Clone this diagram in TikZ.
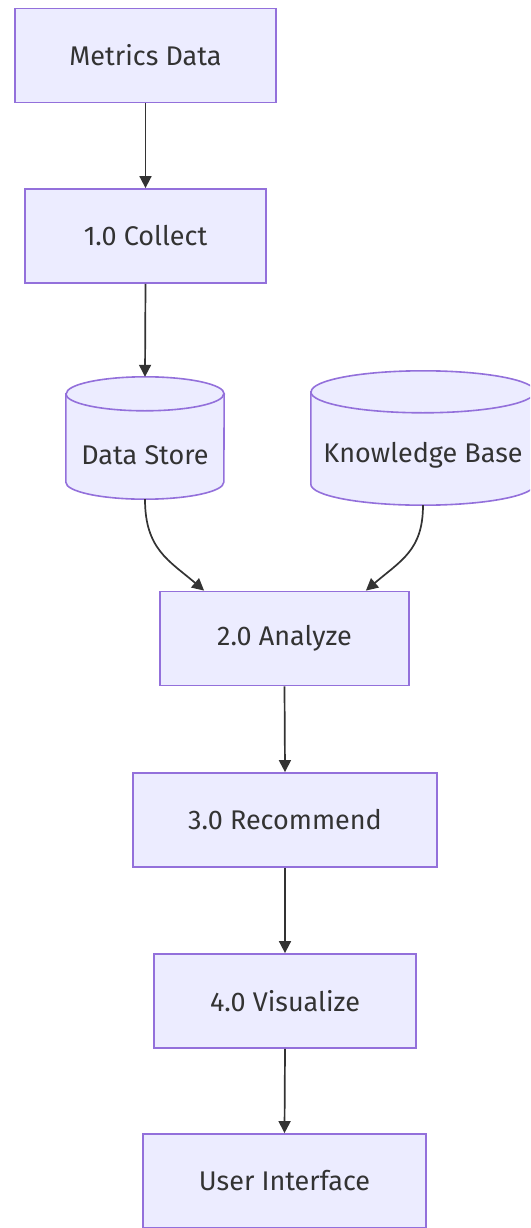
\documentclass[tikz,border=0pt]{standalone}
\usepackage{fontspec}
\setmainfont{Fira Sans}
\usetikzlibrary{arrows.meta}
\definecolor{boxfill}{HTML}{ECECFF}
\definecolor{boxline}{HTML}{9370DB}
\definecolor{ink}{HTML}{333333}
\begin{document}
\begin{tikzpicture}[x=1pt,y=1pt,
  every node/.style={font=\fontsize{27}{32}\selectfont, text=ink},
  proc/.style={draw=boxline, fill=boxfill, line width=1.8pt, minimum height=94pt, inner sep=0pt},
  cylbody/.style={fill=boxfill, draw=boxline, line width=1.6pt},
  flow/.style={draw=ink, line width=1.7pt, -{Triangle[length=12pt,width=12pt]}}
]
\useasboundingbox (0,0) rectangle (530,-1228);
\clip (0,0) rectangle (530,-1228);

\node[proc, minimum width=261pt] (md) at (145.5,-55.5) {Metrics Data};
\node[proc, minimum width=241pt] (c1) at (145.5,-236) {1.0 Collect};

% cylinders: invisible frame nodes
\node[minimum width=158pt, minimum height=122pt, inner sep=0pt] (ds) at (145,-438) {};
\node[minimum width=224pt, minimum height=134pt, inner sep=0pt] (kb) at (423,-438) {};

% Data Store cylinder
\path[cylbody] ([yshift=-17pt]ds.north west) -- ([yshift=17pt]ds.south west)
  arc[start angle=180, end angle=360, x radius=79pt, y radius=17pt]
  -- ([yshift=-17pt]ds.north east)
  arc[start angle=0, end angle=180, x radius=79pt, y radius=17pt] -- cycle;
\draw[boxline, line width=1.6pt] ([yshift=-17pt]ds.north west)
  arc[start angle=180, end angle=360, x radius=79pt, y radius=17pt];
\node (dsl) at ([yshift=-17pt]ds.center) {Data Store};

% Knowledge Base cylinder
\path[cylbody] ([yshift=-21pt]kb.north west) -- ([yshift=21pt]kb.south west)
  arc[start angle=180, end angle=360, x radius=112pt, y radius=21pt]
  -- ([yshift=-21pt]kb.north east)
  arc[start angle=0, end angle=180, x radius=112pt, y radius=21pt] -- cycle;
\draw[boxline, line width=1.6pt] ([yshift=-21pt]kb.north west)
  arc[start angle=180, end angle=360, x radius=112pt, y radius=21pt];
\node (kbl) at ([yshift=-17pt]kb.center) {Knowledge Base};

\node[proc, minimum width=249pt] (an) at (284.5,-638.5) {2.0 Analyze};
\node[proc, minimum width=304pt] (rc) at (285,-820) {3.0 Recommend};
\node[proc, minimum width=262pt] (vz) at (285,-1001) {4.0 Visualize};
\node[proc, minimum width=283pt] (ui) at (284.5,-1181) {User Interface};

\draw[flow] (md.south) -- (c1.north);
\draw[flow] (c1.south) -- (ds.north);
\draw[flow] (ds.south) .. controls +(0,-50) and +(-35,30) .. ([xshift=45pt]an.north west);
\draw[flow] (kb.south) .. controls +(0,-45) and +(35,30) .. ([xshift=-44pt]an.north east);
\draw[flow] (an.south) -- (rc.north);
\draw[flow] (rc.south) -- (vz.north);
\draw[flow] (vz.south) -- (ui.north);
\end{tikzpicture}
\end{document}
